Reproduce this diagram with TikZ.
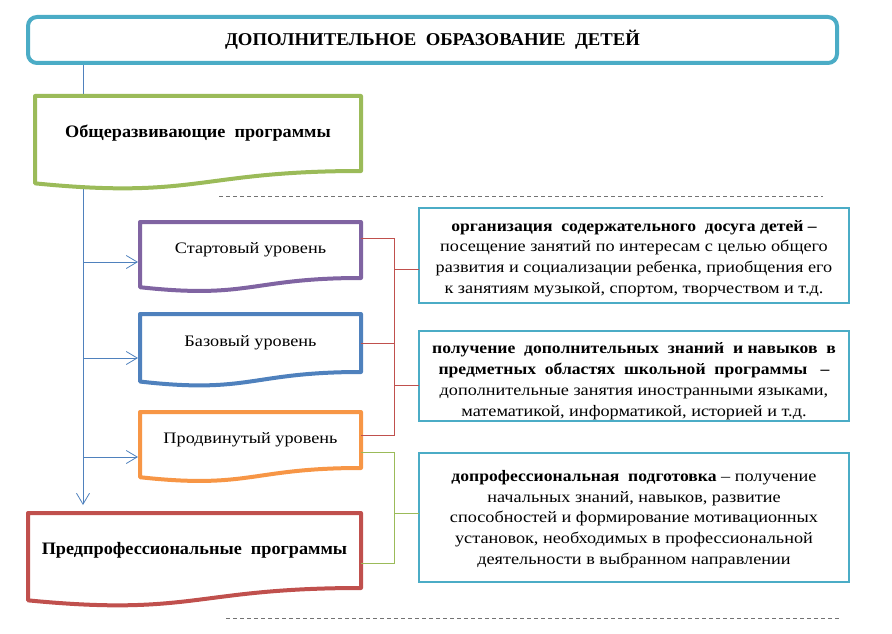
\documentclass[tikz,border=0pt]{standalone}
\usepackage{fontspec}
\setmainfont{Liberation Serif}
\newfontfamily\regwide[FakeStretch=1.14]{Liberation Serif}
\newfontfamily\boldnarrow[FakeStretch=1.04]{Liberation Serif}
\newfontfamily\boldinfo[FakeStretch=1.1]{Liberation Serif}
\newcommand\hb[1]{{\boldinfo\bfseries #1}}
\usetikzlibrary{calc,arrows.meta}
\pgfdeclarelayer{lines}
\pgfdeclarelayer{bg}
\pgfsetlayers{lines,bg,main}
\definecolor{cteal}{HTML}{4BACC6}
\definecolor{cgreen}{HTML}{9BBB59}
\definecolor{cpurple}{HTML}{8064A2}
\definecolor{cblue}{HTML}{4F81BD}
\definecolor{corange}{HTML}{F79646}
\definecolor{cred}{HTML}{C0504D}
\newcommand\docoutline[3]{%
  \begin{pgfonlayer}{bg}
  \draw[#2,line width=4pt,line join=round,fill=white]
    (#1.north west) -- (#1.north east) -- (#1.south east)
    .. controls (#1.south) and ($(#1.south)+(0,{0.381*#3})$) ..
    ($(#1.south west)+(0,{0.1646*#3})$) -- cycle;
  \end{pgfonlayer}}
\tikzset{
  docnode/.style={rectangle,inner sep=0pt,outer sep=0pt,align=center},
  lvltext/.style={font=\fontsize{16}{18}\regwide},
  progtext/.style={font=\fontsize{17.5}{20}\boldnarrow\bfseries},
  infobox/.style={draw=cteal,line width=1.3pt,rectangle,inner sep=0pt,outer sep=0pt,
    minimum width=430pt},
  infotext/.style={inner sep=0pt,align=center,font=\fontsize{16}{20.8}\regwide},
  arr/.style={cblue,line width=0.9pt,-{Straight Barb[length=11pt,width=13pt,line width=0.8pt]},shorten >=2pt},
  redline/.style={cred,line width=1pt},
  greenline/.style={cgreen,line width=1pt},
  dashline/.style={black!55,line width=1pt,dash pattern=on 4pt off 3pt}
}
\begin{document}
\begin{tikzpicture}[x=1pt,y=-1pt]
\useasboundingbox (0,0) rectangle (892,634);
% title
\node[draw=cteal,line width=4pt,rounded corners=9pt,minimum width=809pt,minimum height=46pt,
  inner sep=0pt,outer sep=0pt,font=\fontsize{18}{20}\boldnarrow\bfseries] (title) at (432.5,40)
  {ДОПОЛНИТЕЛЬНОЕ\ \ ОБРАЗОВАНИЕ\ \ ДЕТЕЙ};
% program / level boxes
\node[docnode,progtext,minimum width=326pt,minimum height=75pt] (gen) at (198,133.5) {Общеразвивающие\ \ программы};
\docoutline{gen}{cgreen}{75}
\node[docnode,lvltext,minimum width=221pt,minimum height=56pt] (start) at (250.5,250) {Стартовый уровень};
\docoutline{start}{cpurple}{56}
\node[docnode,lvltext,minimum width=221pt,minimum height=58pt] (base) at (250.5,343) {Базовый уровень};
\docoutline{base}{cblue}{58}
\node[docnode,lvltext,minimum width=221pt,minimum height=56pt] (adv) at (250.5,440) {Продвинутый уровень};
\docoutline{adv}{corange}{56}
\node[docnode,progtext,minimum width=333pt,minimum height=75pt] (pre) at (194.5,550.5) {Предпрофессиональные\ \ программы};
\docoutline{pre}{cred}{75}
% info boxes
\node[infobox,minimum height=95pt] (info1) at (634,255.5) {};
\node[infotext] (info1t) at ($(info1)+(0,3)$)
  {\hb{организация\ \ содержательного\ \ досуга детей –}\\
   посещение занятий по интересам с целью общего\\
   развития и социализации ребенка, приобщения его\\
   к занятиям музыкой, спортом, творчеством и т.д.};
\node[infobox,minimum height=90pt] (info2) at (634,376) {};
\node[infotext] (info2t) at ($(info2)+(0,5)$)
  {\hb{получение\ \ дополнительных\ \ знаний\ \ и навыков\ \ в}\\
   \hb{предметных\ \ областях\ \ школьной\ \ программы\ \ \ –}\\
   дополнительные занятия иностранными языками,\\
   математикой, информатикой, историей и т.д.};
\node[infobox,minimum height=129pt] (info3) at (634,517.5) {};
\node[infotext] (info3t) at ($(info3)+(0,1.5)$)
  {\hb{допрофессиональная\ \ подготовка} – получение\\
   начальных знаний, навыков, развитие\\
   способностей и формирование мотивационных\\
   установок, необходимых в профессиональной\\
   деятельности в выбранном направлении};
% main vertical connector
\coordinate (vtop) at ($(title.south west)+(55,0)$);
\coordinate (vend) at ($(pre.north west)+(55,-8)$);
\begin{pgfonlayer}{lines}
\draw[arr,shorten >=0pt] (vtop) -- (vend);
\end{pgfonlayer}
% level arrows
\coordinate (a1) at ($(start.west)+(0,12)$);
\coordinate (a2) at ($(base.west)+(0,15)$);
\coordinate (a3) at ($(adv.west)+(0,17)$);
\draw[arr] (a1 -| vtop) -- (a1);
\draw[arr] (a2 -| vtop) -- (a2);
\draw[arr] (a3 -| vtop) -- (a3);
% red bracket
\coordinate (rb) at (394,0);
\coordinate (s1) at ($(start.east)+(0,-12)$);
\coordinate (s2) at (base.east);
\coordinate (s3) at ($(adv.east)+(0,-5)$);
\coordinate (i1) at ($(info1.west)+(0,13.5)$);
\coordinate (i2) at ($(info2.west)+(0,9)$);
\draw[redline] (s1) -- (s1 -| rb) -- (s3 -| rb) -- (s3);
\draw[redline] (s2) -- (s2 -| rb);
\draw[redline] (i1 -| rb) -- (i1);
\draw[redline] (i2 -| rb) -- (i2);
% green bracket
\coordinate (g1) at ($(adv.east)+(0,12)$);
\coordinate (g2) at ($(pre.east)+(0,12.5)$);
\coordinate (i3) at ($(info3.west)+(0,-4.5)$);
\draw[greenline] (g1) -- (g1 -| rb) -- (g2 -| rb) -- (g2);
\draw[greenline] (i3 -| rb) -- (i3);
% dashed rules
\draw[dashline] (219,196) -- (823,196);
\draw[dashline] (226,618) -- (841,618);
\end{tikzpicture}
\end{document}
